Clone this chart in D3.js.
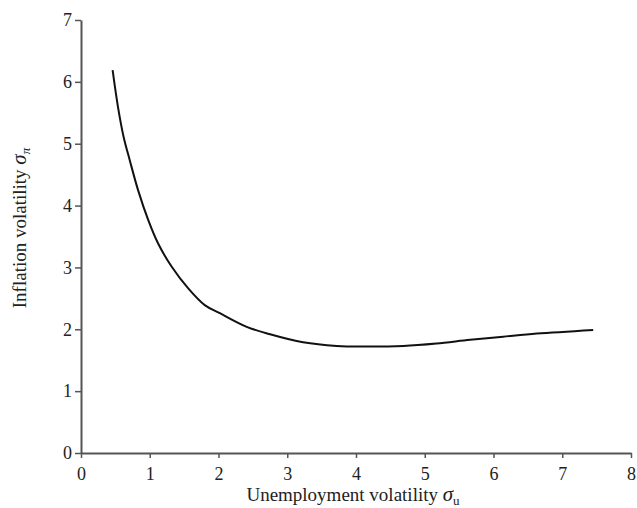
<!DOCTYPE html>
<html>
<head>
<meta charset="utf-8">
<script src="https://cdn.jsdelivr.net/npm/d3@7"></script>
<style>
  body { margin: 0; background: #fff; }
  text { font-family: "Liberation Serif", "DejaVu Serif", serif; }
</style>
</head>
<body>
<div id="chart"></div>
<script>
var width = 637;
var height = 508;

// Curve
var uVol = [0.46, 0.54, 0.62, 0.71, 0.83, 0.98, 1.12, 1.32, 1.56, 1.80, 2.02, 2.41, 2.75, 3.23, 3.72, 4.11, 4.69, 5.17, 5.66, 6.14, 6.63, 7.45];
var piVol = [6.19, 5.58, 5.11, 4.73, 4.25, 3.76, 3.39, 3.01, 2.66, 2.39, 2.26, 2.04, 1.92, 1.79, 1.73, 1.72, 1.73, 1.77, 1.83, 1.88, 1.93, 1.99];
var xTicks = [0, 1, 2, 3, 4, 5, 6, 7, 8];
var yTicks = [0, 1, 2, 3, 4, 5, 6, 7];

var data = uVol.map(function(u, i) { return { u: u, p: piVol[i] }; });

var xScale = d3.scaleLinear().domain([0, 8]).range([81, 631]);
var yScale = d3.scaleLinear().domain([0, 7]).range([453, 20]);

var svg = d3.select("#chart")
    .append("svg")
    .attr("width", width)
    .attr("height", height);

// x-axis
var xAxis = svg.append("g")
    .attr("transform", "translate(0," + yScale(0) + ")")
    .call(d3.axisBottom(xScale).tickValues(xTicks).tickSize(5).tickSizeOuter(0).tickFormat(d3.format("d")));

// y-axis
var yAxis = svg.append("g")
    .attr("transform", "translate(" + xScale(0) + ",0)")
    .call(d3.axisLeft(yScale).tickValues(yTicks).tickSize(6).tickSizeOuter(0).tickFormat(d3.format("d")));

[xAxis, yAxis].forEach(function(ax) {
    ax.select(".domain").attr("stroke", "#555").attr("stroke-width", 2);
    ax.selectAll(".tick line").attr("stroke", "#555").attr("stroke-width", 1.5);
    ax.selectAll(".tick text")
        .attr("fill", "#222")
        .style("font-family", "Liberation Serif, serif")
        .style("font-size", "18px");
});
xAxis.selectAll(".tick text").attr("dy", "1.05em");
yAxis.selectAll(".tick text").attr("x", -9);

// the curve
var line = d3.line()
    .x(function(d) { return xScale(d.u); })
    .y(function(d) { return yScale(d.p); })
    .curve(d3.curveCatmullRom.alpha(0.5));

svg.append("path")
    .datum(data)
    .attr("fill", "none")
    .attr("stroke", "#111")
    .attr("stroke-width", 2)
    .attr("d", line);

// axis labels
var xLab = svg.append("text")
    .attr("x", 353)
    .attr("y", 501)
    .attr("text-anchor", "middle")
    .attr("fill", "#222")
    .style("font-size", "19px");
xLab.append("tspan").text("Unemployment volatility ");
xLab.append("tspan").attr("font-style", "italic").attr("font-size", "21px").text("σ");
xLab.append("tspan").attr("font-size", "13px").attr("dy", "4").text("u");

var yLab = svg.append("text")
    .attr("transform", "translate(26," + 228 + ") rotate(-90)")
    .attr("text-anchor", "middle")
    .attr("fill", "#222")
    .style("font-size", "19px");
yLab.append("tspan").text("Inflation volatility ");
yLab.append("tspan").attr("font-style", "italic").attr("font-size", "21px").text("σ");
yLab.append("tspan").attr("font-style", "italic").attr("font-size", "13px").attr("dy", "4").text("π");
</script>
</body>
</html>
